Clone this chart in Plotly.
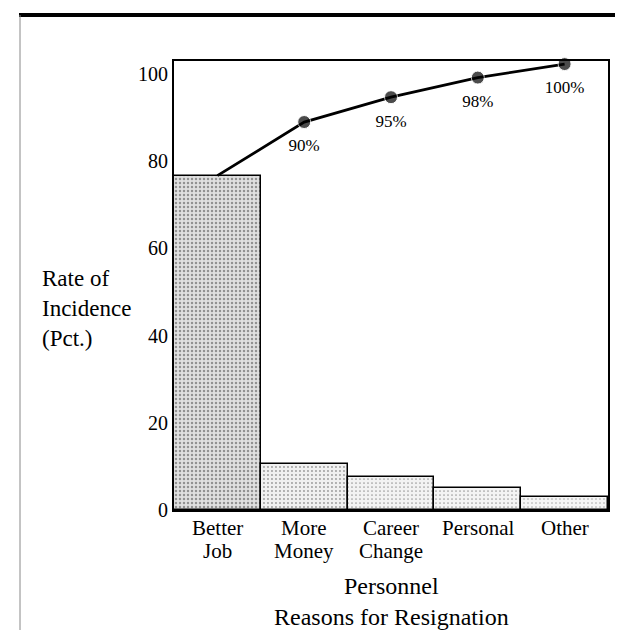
"""Pareto chart: personnel reasons for resignation."""

import plotly.graph_objects as go

categories = ["Better<br>Job", "More<br>Money", "Career<br>Change", "Personal", "Other"]
incidence = [76.7, 10.6, 7.6, 5.0, 3.0]
cumulative = [76.7, 89.0, 94.7, 99.2, 102.3]
cumulative_labels = ["", "90%", "95%", "98%", "100%"]
y_ticks = [0, 20, 40, 60, 80, 100]

FONT = "Liberation Serif, Times New Roman, serif"

# plot area in pixels: left 166, right 600, top 53, bottom 502
W, H = 623, 630
L, R, T, B = 166, 23, 53, 128
PW, PH = W - L - R, H - T - B


def px_x(x):
    return (x - L) / PW


def px_y(y):
    return (H - B - y) / PH


fig = go.Figure()

fig.add_trace(
    go.Bar(
        x=categories,
        y=incidence,
        width=1.0,
        marker=dict(
            color=["#e0e0e0", "#f0f0f0", "#f3f3f3", "#f4f4f4", "#f5f5f5"],
            line=dict(color="black", width=1.5),
            pattern=dict(
                shape=".",
                fgcolor=["#8c8c8c", "#a0a0a0", "#aaaaaa", "#aaaaaa", "#b0b0b0"],
                size=4,
                solidity=[0.3, 0.18, 0.14, 0.14, 0.12],
            ),
        ),
        showlegend=False,
        hoverinfo="skip",
    )
)

# cumulative line
fig.add_trace(
    go.Scatter(
        x=categories,
        y=cumulative,
        mode="lines+markers",
        line=dict(color="black", width=2.8),
        marker=dict(color="black", size=[0, 13, 13, 13, 13]),
        cliponaxis=False,
        showlegend=False,
    )
)

# percentage labels, pushed a little further below the dots
fig.add_trace(
    go.Scatter(
        x=categories,
        y=cumulative,
        mode="markers+text",
        marker=dict(color="rgba(0,0,0,0)", size=25),
        text=cumulative_labels,
        textposition="bottom center",
        textfont=dict(family=FONT, size=17, color="black"),
        cliponaxis=False,
        showlegend=False,
        hoverinfo="skip",
    )
)

# category labels as two tight rows (plotly's <br> spacing is too loose here)
label_annotations = []
for cat in categories:
    for row, word in enumerate(cat.split("<br>")):
        label_annotations.append(
            dict(
                text=word,
                xref="x", yref="paper",
                x=cat, y=px_y(520 + 23 * row),
                xanchor="center", yanchor="middle",
                showarrow=False, font=dict(size=21),
            )
        )

fig.update_layout(
    width=W,
    height=H,
    margin=dict(l=L, r=R, t=T, b=B),
    paper_bgcolor="white",
    plot_bgcolor="white",
    font=dict(family=FONT, size=21, color="black"),
    bargap=0,
    xaxis=dict(
        showline=True,
        linecolor="black",
        linewidth=2,
        mirror=True,
        showgrid=False,
        ticks="",
        showticklabels=False,
    ),
    yaxis=dict(
        range=[0, 103],
        tickvals=y_ticks,
        showline=True,
        linecolor="black",
        linewidth=2,
        mirror=True,
        showgrid=False,
        zeroline=False,
        ticks="",
        tickfont=dict(size=20),
    ),
    annotations=label_annotations + [
        dict(
            text="Rate of<br>Incidence<br>(Pct.)",
            xref="paper", yref="paper",
            x=px_x(32), y=px_y(300),
            xanchor="left", yanchor="middle",
            align="left", showarrow=False,
            font=dict(size=23),
        ),
        dict(
            text="Personnel",
            xref="paper", yref="paper",
            x=0.5, y=px_y(578),
            xanchor="center", yanchor="middle",
            showarrow=False, font=dict(size=24),
        ),
        dict(
            text="Reasons for Resignation",
            xref="paper", yref="paper",
            x=0.5, y=px_y(609),
            xanchor="center", yanchor="middle",
            showarrow=False, font=dict(size=24),
        ),
    ],
    shapes=[
        # page frame: heavy rule on top, thin rule on the left
        dict(type="line", xref="paper", yref="paper",
             x0=px_x(11), x1=px_x(623), y0=px_y(7), y1=px_y(7),
             line=dict(color="black", width=4)),
        dict(type="line", xref="paper", yref="paper",
             x0=px_x(12), x1=px_x(12), y0=px_y(7), y1=px_y(630),
             line=dict(color="#888888", width=1)),
    ],
)

fig.write_html("out.html")
